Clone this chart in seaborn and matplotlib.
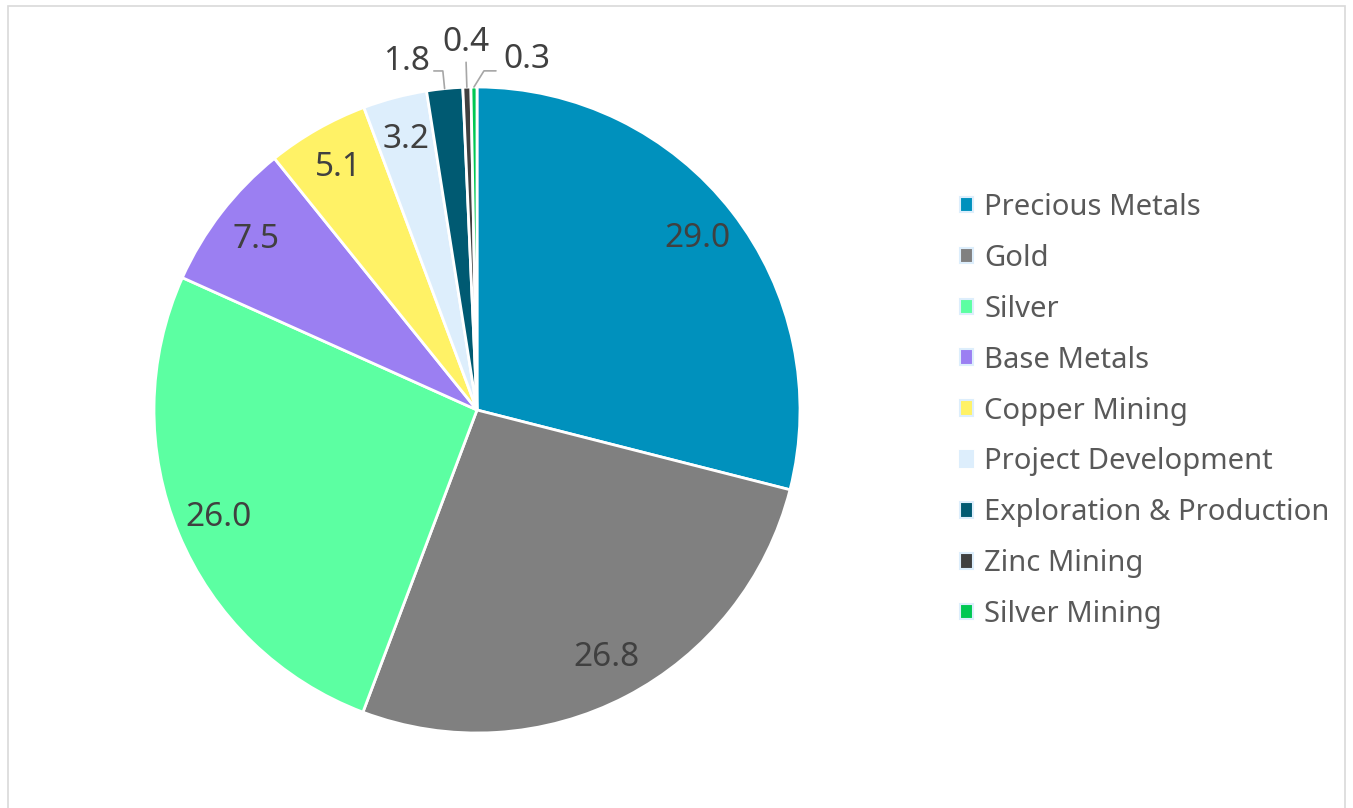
import numpy as np
import matplotlib
matplotlib.use("Agg")
import matplotlib.pyplot as plt
import seaborn as sns
from matplotlib.patches import Patch, Rectangle

categories = ["Precious Metals", "Gold", "Silver", "Base Metals", "Copper Mining",
              "Project Development", "Exploration & Production", "Zinc Mining", "Silver Mining"]
values = [29.0, 26.8, 26.0, 7.5, 5.1, 3.2, 1.8, 0.4, 0.3]
colors = ["#0091BD", "#808080", "#5CFFA2", "#9B7FF2", "#FFF266",
          "#DDEEFC", "#005A72", "#404040", "#00C853"]

sns.set_theme(style="white")
plt.rcParams['font.family'] = ['Noto Sans', 'DejaVu Sans']

W, H = 1353, 808
fig = plt.figure(figsize=(W / 100, H / 100), dpi=100)
fig.patch.set_facecolor("white")

# outer frame
fig.add_artist(Rectangle((8 / W, -0.05), (1345 - 8) / W, 1.05 - 6 / H,
                         transform=fig.transFigure, fill=False,
                         edgecolor="#D9D9D9", linewidth=1.2))

cx, cy, R = 477, 410, 323
lim = 1.3
half = lim * R
ax = fig.add_axes([(cx - half) / W, (H - cy - half) / H, 2 * half / W, 2 * half / H])

wedges, _ = ax.pie(values, colors=sns.color_palette(colors), startangle=90,
                   counterclock=False,
                   wedgeprops=dict(edgecolor="white", linewidth=2))
ax.set_xlim(-lim, lim)
ax.set_ylim(-lim, lim)
ax.set_aspect("equal")
ax.axis("off")

label_color = "#404040"
fs = 24
total = sum(values)
cum = 0.0
px = 1.0 / R
for i, v in enumerate(values):
    mid = (cum + v / 2) / total
    cum += v
    ang = np.deg2rad(90 - mid * 360)
    ux, uy = np.cos(ang), np.sin(ang)
    txt = f"{v:.1f}"
    x0, y0 = ux, uy
    if i == 6:
        x1, y1 = ux * 1.055, uy * 1.055
        ax.plot([x0, x1, x1 - 9 * px], [y0, y1, y1], color="#A6A6A6", lw=1.2)
        ax.text(x1 - 13 * px, y1 + 9 * px, txt, ha="right", va="center",
                fontsize=fs, color=label_color)
    elif i == 7:
        x1, y1 = ux * 1.077, uy * 1.077
        ax.plot([x0, x1], [y0, y1], color="#A6A6A6", lw=1.2)
        ax.text(x1, y1 + 20 * px, txt, ha="center", va="center",
                fontsize=fs, color=label_color)
    elif i == 8:
        x1, y1 = x0 + 10 * px, uy * 1.05
        ax.plot([x0, x1, x1 + 12 * px], [y0, y1, y1], color="#A6A6A6", lw=1.2)
        ax.text(x1 + 19 * px, y1 + 11 * px, txt, ha="left", va="center",
                fontsize=fs, color=label_color)
    else:
        ax.text(ux * 0.865, uy * 0.865, txt, ha="center", va="center",
                fontsize=fs, color=label_color)

handles = [Patch(facecolor=c, edgecolor="#DDEEFC", linewidth=1.5) for c in colors]
leg = fig.legend(handles, categories, loc="upper left",
                 bbox_to_anchor=(960 / W, 1 - 193 / H), frameon=False,
                 fontsize=21, labelcolor="#595959",
                 handlelength=0.45, handleheight=0.45, handletextpad=0.38,
                 labelspacing=0.75, borderaxespad=0, borderpad=0)

fig.savefig("out.png", dpi=100, facecolor="white")
